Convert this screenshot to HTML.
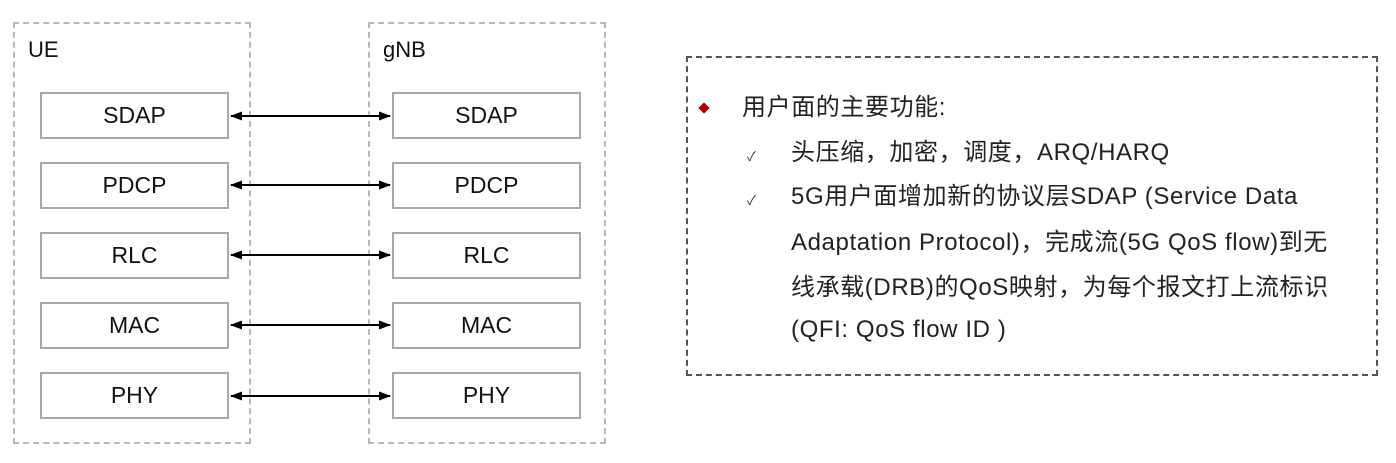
<!DOCTYPE html>
<html><head><meta charset="utf-8"><style>
body{margin:0;width:1396px;height:463px;background:#fff;position:relative;overflow:hidden;font-family:"Liberation Sans","Noto Sans CJK SC",sans-serif;}
.dash{position:absolute;border:2px dashed #b8b8b8;box-sizing:border-box;}
.lbl{position:absolute;font-size:22px;color:#111;}
.box{position:absolute;width:189px;height:47px;border:2px solid #a8a8a8;box-sizing:border-box;background:#fff;font-size:23px;color:#111;display:flex;align-items:center;justify-content:center;}
.t{position:absolute;font-size:24px;letter-spacing:0.6px;color:#222;white-space:nowrap;line-height:28px;}
.ck{position:absolute;font-size:13px;color:#333;}
</style></head><body>
<div class="dash" style="left:13px;top:22px;width:238px;height:422px"></div>
<div class="dash" style="left:368px;top:22px;width:238px;height:422px"></div>
<div class="lbl" style="left:28px;top:37px">UE</div>
<div class="lbl" style="left:383px;top:37px">gNB</div>
<svg style="position:absolute;left:0;top:0" width="700" height="463">
<defs><marker id="a" markerUnits="userSpaceOnUse" markerWidth="12" markerHeight="12" refX="11" refY="6" orient="auto-start-reverse"><path d="M0,1.5 L12,6 L0,10.5 z" fill="#000"/></marker></defs>
<g stroke="#000" stroke-width="2" marker-start="url(#a)" marker-end="url(#a)">
<line x1="231" y1="116" x2="390" y2="116"/>
<line x1="231" y1="185" x2="390" y2="185"/>
<line x1="231" y1="255" x2="390" y2="255"/>
<line x1="231" y1="325" x2="390" y2="325"/>
<line x1="231" y1="396" x2="390" y2="396"/>
</g></svg>
<div class="box" style="left:40px;top:92px">SDAP</div>
<div class="box" style="left:40px;top:162px">PDCP</div>
<div class="box" style="left:40px;top:232px">RLC</div>
<div class="box" style="left:40px;top:302px">MAC</div>
<div class="box" style="left:40px;top:372px">PHY</div>
<div class="box" style="left:392px;top:92px">SDAP</div>
<div class="box" style="left:392px;top:162px">PDCP</div>
<div class="box" style="left:392px;top:232px">RLC</div>
<div class="box" style="left:392px;top:302px">MAC</div>
<div class="box" style="left:392px;top:372px">PHY</div>
<div class="dash" style="left:686px;top:56px;width:692px;height:320px;border-color:#555"></div>
<div style="position:absolute;left:700px;top:104px;width:8px;height:8px;background:#a00;transform:rotate(45deg)"></div>
<div class="t" style="left:742px;top:94px">用户面的主要功能:</div>
<div class="ck" style="left:747px;top:146px">✓</div>
<div class="ck" style="left:747px;top:190px">✓</div>
<div class="t" style="left:791px;top:139px">头压缩，加密，调度，ARQ/HARQ</div>
<div class="t" style="left:791px;top:183px">5G用户面增加新的协议层SDAP (Service Data</div>
<div class="t" style="left:791px;top:229px">Adaptation Protocol)，完成流(5G QoS flow)到无</div>
<div class="t" style="left:791px;top:274px">线承载(DRB)的QoS映射，为每个报文打上流标识</div>
<div class="t" style="left:791px;top:316px">(QFI: QoS flow ID )</div>
</body></html>
